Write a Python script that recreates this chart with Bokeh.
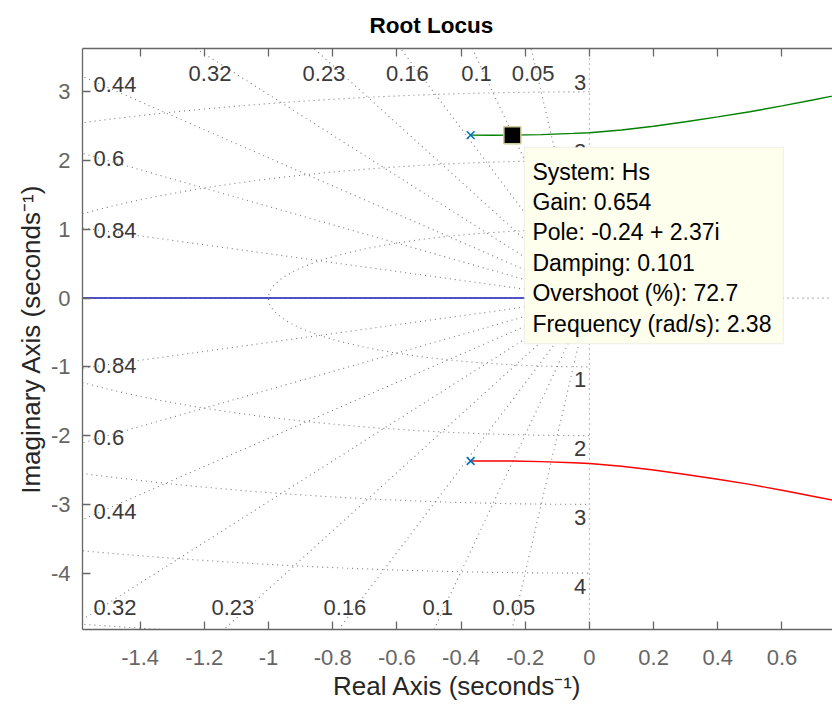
import numpy as np
from bokeh.plotting import figure
from bokeh.models import LinearAxis, FixedTicker, Span, Label, BoxAnnotation, Range1d
from bokeh.embed import file_html
from bokeh.resources import INLINE
from bokeh.core.properties import value

# ---------------- data ----------------
pole_re = [-0.37, -0.37, 0.0]
pole_im = [2.37, -2.37, 0.0]

branch_x = [-0.37, -0.30, -0.24, -0.15, -0.05, 0.0, 0.1, 0.2, 0.3, 0.4, 0.5, 0.6, 0.7, 0.78]
branch_upper_y = [2.37, 2.368, 2.37, 2.378, 2.395, 2.405, 2.445, 2.50, 2.565, 2.635, 2.71, 2.795, 2.885, 2.96]
branch_lower_y = [-2.37, -2.368, -2.37, -2.378, -2.395, -2.405, -2.445, -2.50, -2.565, -2.635, -2.71, -2.795, -2.885, -2.96]
real_branch_x = [0.0, -1.7]
real_branch_y = [0.0, 0.0]

zetas = [0.05, 0.1, 0.16, 0.23, 0.32, 0.44, 0.6, 0.84]
zeta_labels = ["0.05", "0.1", "0.16", "0.23", "0.32", "0.44", "0.6", "0.84"]
wns = [1, 2, 3, 4, 5]
wn_labels = ["1", "2", "3", "4", "5"]

x_ticks = [-1.4, -1.2, -1, -0.8, -0.6, -0.4, -0.2, 0, 0.2, 0.4, 0.6]
x_tick_labels = ["-1.4", "-1.2", "-1", "-0.8", "-0.6", "-0.4", "-0.2", "0", "0.2", "0.4", "0.6"]
y_ticks = [-4, -3, -2, -1, 0, 1, 2, 3]
y_tick_labels = ["-4", "-3", "-2", "-1", "0", "1", "2", "3"]

title_text = "Root Locus"
tip_x, tip_y = -0.24, 2.37
tip_lines = ["System: Hs", "Gain: 0.654", "Pole: -0.24 + 2.37i", "Damping: 0.101",
             "Overshoot (%): 72.7", "Frequency (rad/s): 2.38"]

# ---------------- figure ----------------
W, H = 832, 711
BL, BR, BT, BB = 82, 0, 48, 82
x0, x1 = -1.5795, 0.7575
y0, y1 = -4.82, 3.63
FONT = "Liberation Sans"

p = figure(width=W, height=H, x_range=Range1d(x0, x1), y_range=Range1d(y0, y1),
           output_backend="svg", toolbar_location=None,
           min_border_left=BL, min_border_right=BR, min_border_top=BT, min_border_bottom=BB,
           title=title_text)
p.outline_line_color = None
p.grid.visible = False

p.title.text_font = FONT
p.title.text_font_size = "22.5px"
p.title.text_font_style = "bold"
p.title.text_color = "black"
p.title.align = "left"
p.title.offset = 287
p.title.standoff = 21

def style_axis(ax):
    ax.major_tick_in = 8
    ax.major_tick_out = 0
    ax.minor_tick_line_color = None
    ax.axis_line_color = "#666666"
    ax.axis_line_width = 1.3
    ax.major_tick_line_color = "#666666"
    ax.major_tick_line_width = 1.3
    ax.major_label_text_font = FONT
    ax.major_label_text_font_size = "22px"
    ax.major_label_text_color = "#666666"
    ax.axis_label_text_font = FONT
    ax.axis_label_text_font_size = "26px"
    ax.axis_label_text_font_style = "normal"
    ax.axis_label_text_color = "#262626"

xa = p.xaxis[0]
ya = p.yaxis[0]
style_axis(xa)
style_axis(ya)
xa.ticker = FixedTicker(ticks=x_ticks)
xa.major_label_overrides = dict(zip(x_ticks, x_tick_labels))
ya.ticker = FixedTicker(ticks=y_ticks)
ya.major_label_overrides = dict(zip(y_ticks, y_tick_labels))
xa.axis_label = "Real Axis (seconds\u207b\u00b9)"
ya.axis_label = "Imaginary Axis (seconds\u207b\u00b9)"
xa.major_label_standoff = 20
xa.axis_label_standoff = 3
ya.major_label_standoff = 12
ya.axis_label_standoff = 2

top = LinearAxis(ticker=FixedTicker(ticks=x_ticks))
style_axis(top)
top.major_label_overrides = {t: "" for t in x_ticks}
top.major_label_text_font_size = "1px"
top.major_label_standoff = 0
p.add_layout(top, "above")

# ---------------- grid (sgrid) ----------------
GRID = "#7a7a7a"
R = 12.0
ray_xs, ray_ys = [], []
for z in zetas:
    s = np.sqrt(1 - z * z)
    ray_xs += [[0, -z * R], [0, -z * R]]
    ray_ys += [[0, s * R], [0, -s * R]]
p.multi_line(ray_xs, ray_ys, line_color=GRID, line_width=1.1, line_dash="1 4")

t = np.linspace(np.pi / 2, 3 * np.pi / 2, 400)
circ_xs = [list(w * np.cos(t)) for w in wns]
circ_ys = [list(w * np.sin(t)) for w in wns]
p.multi_line(circ_xs, circ_ys, line_color=GRID, line_width=1.1, line_dash="1 4")

p.add_layout(Span(location=0, dimension="width", line_color=GRID, line_width=1.1, line_dash="1 4"))
p.add_layout(Span(location=0, dimension="height", line_color=GRID, line_width=1.1, line_dash="1 4"))

# damping labels
lx, ly, lt, la = [], [], [], []
XL = 1.52
for z, lab in zip(zetas, zeta_labels):
    slope = np.sqrt(1 - z * z) / z
    if XL * slope < 3.5:
        lx.append(-1.545); ly.append(XL * slope); lt.append(lab); la.append("left")
    else:
        lx.append(-3.5 / slope); ly.append(3.26); lt.append(lab); la.append("center")
    if XL * slope < 4.7:
        lx.append(-1.545); ly.append(-XL * slope); lt.append(lab); la.append("left")
    else:
        lx.append(-4.7 / slope); ly.append(-4.5); lt.append(lab); la.append("center")
p.text(x=lx, y=ly, text=lt, text_align=la, text_baseline="middle",
       text_font=value(FONT), text_font_size=value("22px"), text_color="#3a3a3a")

# natural frequency labels (only those whose circle crosses the visible imaginary axis)
fx, fy, ft, fb = [], [], [], []
for w, lab in zip(wns, wn_labels):
    if w < y1:
        fx.append(-0.01); fy.append(w + 0.03); ft.append(lab); fb.append("bottom")
    if w < -y0:
        fx.append(-0.01); fy.append(-w - 0.08); ft.append(lab); fb.append("top")
p.text(x=fx, y=fy, text=ft, text_align="right", text_baseline=fb,
       text_font=value(FONT), text_font_size=value("22px"), text_color="#3a3a3a")

# ---------------- locus ----------------
p.line(real_branch_x, real_branch_y, line_color="#1010c0", line_width=1.5)
p.line(branch_x, branch_upper_y, line_color="#008000", line_width=1.4)
p.line(branch_x, branch_lower_y, line_color="#ff0000", line_width=1.4)
p.scatter(pole_re, pole_im, marker="x", size=11, line_color="#0072bd", line_width=1.6)

# data tip marker
p.scatter([tip_x], [tip_y], marker="square", size=17, fill_color="black",
          line_color="#cccc99", line_width=1.5)

# data tip box
sx = (W - BL - BR) / (x1 - x0)
sy = (H - BT - BB) / (y1 - y0)
p.add_layout(BoxAnnotation(left=tip_x + 12 / sx, right=tip_x + 271 / sx,
                           top=tip_y - 12.2 / sy, bottom=tip_y - 208.5 / sy,
                           fill_color="#ffffee", fill_alpha=1.0,
                           line_color="#cfcfcf", line_width=1.2))
for i, txt in enumerate(tip_lines):
    p.add_layout(Label(x=tip_x, y=tip_y, x_offset=20, y_offset=-(36.5 + 30.4 * i),
                       text=txt, text_baseline="middle", text_align="left",
                       text_font=FONT, text_font_size="23px", text_color="black"))

open("out.html", "w").write(file_html(p, INLINE))
